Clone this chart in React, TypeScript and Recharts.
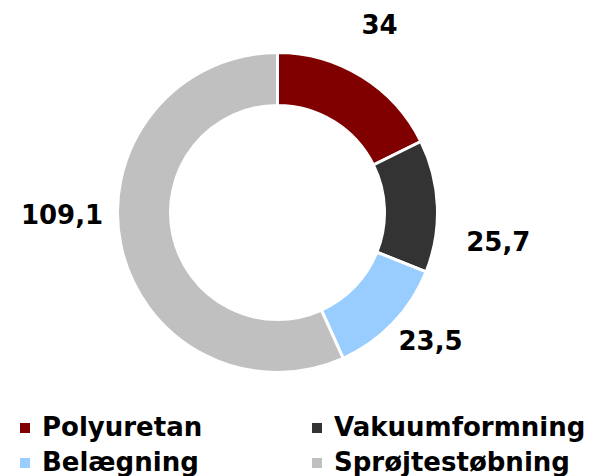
import { Cell, Legend, Pie, PieChart } from 'recharts';

const CATEGORIES = ['Polyuretan', 'Vakuumformning', 'Belægning', 'Sprøjtestøbning'];
const VALUES = [34, 25.7, 23.5, 109.1];
const COLORS = ['#800000', '#333333', '#99CCFF', '#C0C0C0'];

// Excel-style outside labels don't sit exactly on the mid-angle, so nudge them a bit
const LABEL_NUDGE = [
  [-6, -13],
  [16, 38],
  [5, -13],
  [-15, -41],
];

const FONT = '"DejaVu Sans", Verdana, sans-serif';
const RADIAN = Math.PI / 180;

const data = CATEGORIES.map((name, i) => ({ name, value: VALUES[i] }));

function formatValue(v: number): string {
  return String(v).replace('.', ',');
}

function renderLabel(props: any) {
  const { cx, cy, midAngle, outerRadius, value, index } = props;
  const r = outerRadius + 45;
  const [dx, dy] = LABEL_NUDGE[index] ?? [0, 0];
  const x = cx + r * Math.cos(-midAngle * RADIAN) + dx;
  const y = cy + r * Math.sin(-midAngle * RADIAN) + dy;
  return (
    <text
      x={x}
      y={y}
      textAnchor="middle"
      dominantBaseline="central"
      fill="#000"
      fontFamily={FONT}
      fontWeight="bold"
      fontSize={26}
    >
      {formatValue(value)}
    </text>
  );
}

function renderLegend() {
  return (
    <div
      style={{
        display: 'grid',
        gridTemplateColumns: '292px 292px',
        paddingLeft: 20,
        fontFamily: FONT,
        fontWeight: 'bold',
        fontSize: 26,
        lineHeight: '35px',
        color: '#000',
      }}
    >
      {CATEGORIES.map((name, i) => (
        <div key={name} style={{ display: 'flex', alignItems: 'center', height: 35 }}>
          <span style={{ width: 10, height: 10, background: COLORS[i], marginRight: 12, flexShrink: 0 }} />
          <span style={{ whiteSpace: 'nowrap' }}>{name}</span>
        </div>
      ))}
    </div>
  );
}

export default function App() {
  return (
    <div style={{ position: 'absolute', left: 0, top: 0, width: 592, height: 476, background: '#fff' }}>
      <PieChart width={592} height={476} margin={{ top: 0, right: 0, bottom: 0, left: 0 }}>
        <Pie
          data={data}
          dataKey="value"
          nameKey="name"
          cx={277.5}
          cy={212.5}
          innerRadius={107}
          outerRadius={160}
          startAngle={90}
          endAngle={-270}
          stroke="#fff"
          strokeWidth={3}
          label={renderLabel}
          labelLine={false}
          isAnimationActive={false}
        >
          {data.map((entry, index) => (
            <Cell key={entry.name} fill={COLORS[index]} />
          ))}
        </Pie>
        <Legend
          content={renderLegend}
          wrapperStyle={{ position: 'absolute', left: 0, top: 410, width: 592 }}
        />
      </PieChart>
    </div>
  );
}
